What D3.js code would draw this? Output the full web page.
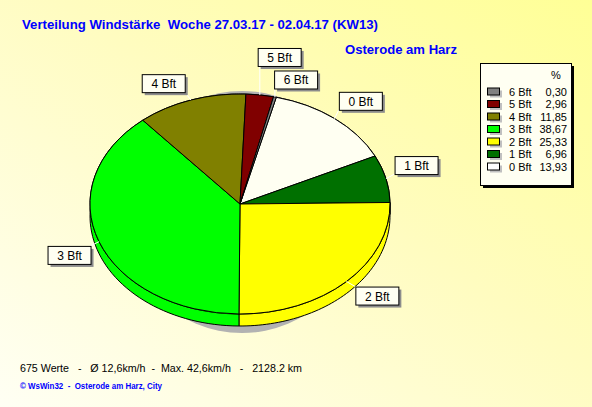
<!DOCTYPE html>
<html><head><meta charset="utf-8">
<script src="https://cdn.jsdelivr.net/npm/d3@7"></script>
<style>html,body{margin:0;padding:0;overflow:hidden}svg{display:block}text{font-family:"Liberation Sans",Arial,sans-serif;white-space:pre}</style>
</head><body>
<script>
const categories = ["0 Bft","1 Bft","2 Bft","3 Bft","4 Bft","5 Bft","6 Bft"];
const percents = [13.93, 6.96, 25.33, 38.67, 11.85, 2.96, 0.30];
const percentLabels = ["13,93","6,96","25,33","38,67","11,85","2,96","0,30"];
const colors = ["#fffff2","#007000","#ffff00","#00ff00","#808000","#800000","#808080"];
const legendColors = ["#ffffff","#007000","#ffff00","#00ff00","#808000","#800000","#808080"];
const titleText = "Verteilung Windstärke  Woche 27.03.17 - 02.04.17 (KW13)";
const subtitleText = "Osterode am Harz";
const footerText = "675 Werte   -   Ø 12,6km/h  -  Max. 42,6km/h   -   2128.2 km";
const creditText = "© WsWin32  -  Osterode am Harz, City";
// label placement nudges (layout only)
const labelNudge = [[5,1],[-2,-8],[7,-3],[1,5],[-17,6],[15,-14],[13,6]];

const W = 592, H = 407;
const cx = 240, cy = 204, rx = 150, ry = 110, depth = 12;
const startDeg = 14;

const svg = d3.select("body").append("svg").attr("width", W).attr("height", H);
const defs = svg.append("defs");
const grad = defs.append("linearGradient").attr("id","bg").attr("x1","1").attr("y1","0").attr("x2","0").attr("y2","1");
grad.append("stop").attr("offset","0").attr("stop-color","#ffff96");
grad.append("stop").attr("offset","0.45").attr("stop-color","#fffcc0");
grad.append("stop").attr("offset","1").attr("stop-color","#fffff4");
svg.append("rect").attr("width",W).attr("height",H).attr("fill","url(#bg)");

const pie = d3.pie().sort(null).value(d => d)
  .startAngle(startDeg * Math.PI/180).endAngle(startDeg * Math.PI/180 + 2*Math.PI);
const arcs = pie(percents);

const pt = (a, k, dy) => [cx + k*rx*Math.sin(a), cy - k*ry*Math.cos(a) + (dy||0)];

// shadow
svg.append("ellipse").attr("cx", cx+2).attr("cy", cy+8).attr("rx", 120).attr("ry", 121).attr("fill", "#b2b2b2");

// side bands
const sideG = svg.append("g");
arcs.forEach((d, i) => {
  const n = 60, top = [], bot = [];
  for (let j = 0; j <= n; j++) {
    const a = d.startAngle + (d.endAngle - d.startAngle) * j / n;
    top.push(pt(a, 1, 0)); bot.push(pt(a, 1, depth));
  }
  const poly = top.concat(bot.reverse());
  sideG.append("path").attr("d", "M" + poly.map(p => p.join(",")).join("L") + "Z")
    .attr("fill", colors[i]).attr("stroke", "#000").attr("stroke-width", 1);
});

// top face
const arcGen = d3.arc().innerRadius(0).outerRadius(rx);
const topG = svg.append("g").attr("transform", `translate(${cx},${cy}) scale(1,${ry/rx})`);
topG.selectAll("path").data(arcs).join("path")
  .attr("d", arcGen).attr("fill", (d,i) => colors[i])
  .attr("stroke", "#000").attr("stroke-width", 1).attr("vector-effect", "non-scaling-stroke");

// labels
const bw = 43, bh = 18;
const labG = svg.append("g");
arcs.forEach((d, i) => {
  const m = (d.startAngle + d.endAngle) / 2;
  const c = pt(m, 1.22);
  const bx = c[0] + labelNudge[i][0] - bw/2, by = c[1] + labelNudge[i][1] - bh/2;
  const e = pt(m, 1);
  const nx = Math.max(bx, Math.min(bx + bw, e[0])), ny = Math.max(by, Math.min(by + bh, e[1]));
  labG.append("line").attr("x1", e[0]).attr("y1", e[1]).attr("x2", nx).attr("y2", ny)
    .attr("stroke", "#fff").attr("stroke-width", 1);
  labG.append("rect").attr("x", bx+3).attr("y", by+3).attr("width", bw).attr("height", bh).attr("fill", "#8c8c8c");
  labG.append("rect").attr("x", bx+0.5).attr("y", by+0.5).attr("width", bw).attr("height", bh)
    .attr("fill", "#fffff2").attr("stroke", "#000");
  labG.append("text").attr("x", bx + bw/2 + 0.5).attr("y", by + 14).attr("text-anchor", "middle")
    .attr("font-size", 12).attr("fill", "#000").text(categories[i]);
});

// titles
svg.append("text").attr("x", 22).attr("y", 29).attr("font-size", 12.5).attr("font-weight", "bold")
  .attr("fill", "#0000ff").attr("textLength", 356).attr("lengthAdjust", "spacingAndGlyphs").text(titleText);
svg.append("text").attr("x", 345).attr("y", 54).attr("font-size", 13).attr("font-weight", "bold")
  .attr("fill", "#0000ff").attr("textLength", 112).attr("lengthAdjust", "spacingAndGlyphs").text(subtitleText);

// legend
const lx = 480, ly = 63, lw = 91, lh = 122;
const legG = svg.append("g");
legG.append("rect").attr("x", lx+3).attr("y", ly+3).attr("width", lw).attr("height", lh).attr("fill", "#000");
legG.append("rect").attr("x", lx+0.5).attr("y", ly+0.5).attr("width", lw).attr("height", lh).attr("fill", "#fffff2").attr("stroke", "#000");
legG.append("text").attr("x", 551).attr("y", 79).attr("font-size", 11).attr("fill", "#000").text("%");
const order = d3.range(categories.length).reverse();
order.forEach((i, r) => {
  const yc = 91.5 + r * 12.5;
  legG.append("rect").attr("x", 490).attr("y", yc - 1).attr("width", 12).attr("height", 7).attr("fill", "#c0c0c0");
  legG.append("rect").attr("x", 487.5).attr("y", yc - 3.5).attr("width", 12).attr("height", 7)
    .attr("fill", legendColors[i]).attr("stroke", "#000");
  legG.append("text").attr("x", 509).attr("y", yc + 4).attr("font-size", 11).attr("fill", "#000").text(categories[i]);
  legG.append("text").attr("x", 567).attr("y", yc + 4).attr("font-size", 11).attr("text-anchor", "end").attr("fill", "#000").text(percentLabels[i]);
});

// footer
svg.append("text").attr("x", 20).attr("y", 372).attr("font-size", 11.5).attr("fill", "#000")
  .attr("textLength", 282).attr("lengthAdjust", "spacingAndGlyphs").text(footerText);
svg.append("text").attr("x", 20).attr("y", 388.5).attr("font-size", 8.5).attr("font-weight", "bold").attr("fill", "#0000ff")
  .attr("textLength", 142).attr("lengthAdjust", "spacingAndGlyphs").text(creditText);
</script>
</body></html>
